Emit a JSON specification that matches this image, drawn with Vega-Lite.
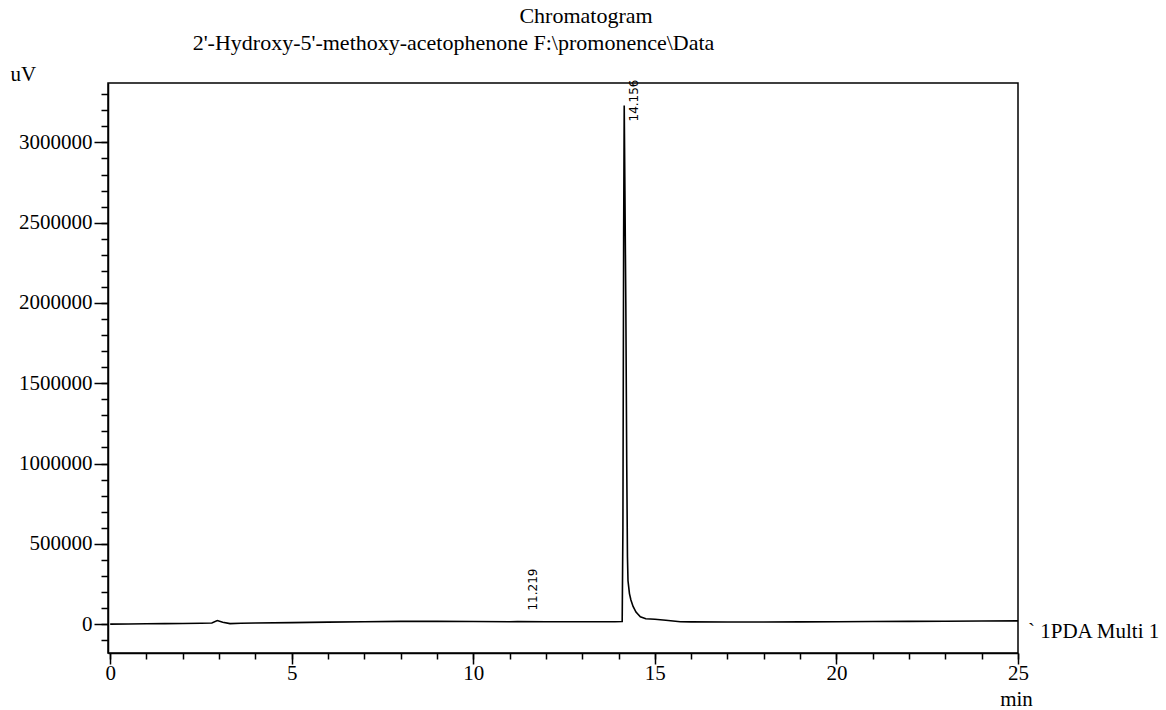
{
  "$schema": "https://vega.github.io/schema/vega-lite/v6.json",
  "autosize": {"type": "none"},
  "padding": {"left": 108, "top": 83, "right": 148, "bottom": 57},
  "width": 910,
  "height": 570,
  "background": "white",
  "config": {
    "view": {"stroke": "black", "strokeWidth": 1.5},
    "font": "Liberation Serif",
    "axis": {"grid": false, "tickColor": "black", "domainColor": "black", "labelColor": "black", "titleColor": "black", "tickWidth": 1.5, "domainWidth": 1.5, "labelFont": "Liberation Serif", "titleFont": "Liberation Serif", "titleFontWeight": "normal"}
  },
  "title": {
    "text": "Chromatogram",
    "anchor": "middle",
    "frame": "group",
    "dx": 23,
    "offset": -14,
    "baseline": "alphabetic",
    "font": "Liberation Serif",
    "fontSize": 22,
    "fontWeight": "normal",
    "color": "black"
  },
  "data": {
    "values": [
      {"t": 0, "uV": 0},
      {"t": 0.5, "uV": 1000},
      {"t": 1.0, "uV": 2000},
      {"t": 1.5, "uV": 3000},
      {"t": 2.0, "uV": 4000},
      {"t": 2.5, "uV": 5000},
      {"t": 2.8, "uV": 7000},
      {"t": 2.95, "uV": 22000},
      {"t": 3.1, "uV": 12000},
      {"t": 3.3, "uV": 3000},
      {"t": 3.6, "uV": 5000},
      {"t": 4.0, "uV": 7000},
      {"t": 5.0, "uV": 9000},
      {"t": 6.0, "uV": 12000},
      {"t": 7.0, "uV": 15000},
      {"t": 8.0, "uV": 17000},
      {"t": 9.0, "uV": 17000},
      {"t": 10.0, "uV": 16000},
      {"t": 11.0, "uV": 15000},
      {"t": 11.219, "uV": 16000},
      {"t": 12.0, "uV": 15000},
      {"t": 13.0, "uV": 15000},
      {"t": 13.9, "uV": 15000},
      {"t": 14.1, "uV": 16000},
      {"t": 14.12, "uV": 600000},
      {"t": 14.14, "uV": 2400000},
      {"t": 14.156, "uV": 3230000},
      {"t": 14.175, "uV": 2700000},
      {"t": 14.2, "uV": 2000000},
      {"t": 14.225, "uV": 1000000},
      {"t": 14.245, "uV": 420000},
      {"t": 14.26, "uV": 270000},
      {"t": 14.3, "uV": 190000},
      {"t": 14.34, "uV": 150000},
      {"t": 14.4, "uV": 110000},
      {"t": 14.48, "uV": 75000},
      {"t": 14.6, "uV": 45000},
      {"t": 14.75, "uV": 33000},
      {"t": 15.0, "uV": 30000},
      {"t": 15.3, "uV": 24000},
      {"t": 15.7, "uV": 15000},
      {"t": 16.0, "uV": 14000},
      {"t": 17.0, "uV": 13000},
      {"t": 18.0, "uV": 13000},
      {"t": 19.0, "uV": 14000},
      {"t": 20.0, "uV": 15000},
      {"t": 21.0, "uV": 16000},
      {"t": 22.0, "uV": 17000},
      {"t": 23.0, "uV": 18000},
      {"t": 24.0, "uV": 19000},
      {"t": 25.0, "uV": 20000}
    ]
  },
  "layer": [
    {
      "mark": {"type": "line", "color": "black", "strokeWidth": 1.6},
      "encoding": {
        "x": {
          "field": "t", "type": "quantitative",
          "scale": {"domain": [-0.06, 25], "nice": false, "zero": false},
          "axis": {
            "orient": "bottom",
            "values": [0, 5, 10, 15, 20, 25],
            "tickSize": 11,
            "labelFontSize": 21,
            "labelPadding": -2,
            "labelFlush": false,
            "labelOverlap": false,
            "title": "min",
            "titleFontSize": 21,
            "titleX": 908,
            "titleY": 52,
            "titleAlign": "center",
            "titleBaseline": "alphabetic"
          }
        },
        "y": {
          "field": "uV", "type": "quantitative",
          "scale": {"domain": [-180000, 3370000], "nice": false, "zero": false},
          "axis": {
            "orient": "left",
            "values": [0, 500000, 1000000, 1500000, 2000000, 2500000, 3000000],
            "format": "d",
            "tickSize": 14,
            "labelFontSize": 21,
            "labelPadding": 2,
            "labelOverlap": false,
            "title": "uV",
            "titleFontSize": 21,
            "titleAngle": 0,
            "titleX": -98,
            "titleY": -3,
            "titleAlign": "left",
            "titleBaseline": "alphabetic"
          }
        }
      }
    },
    {
      "mark": {"type": "line", "opacity": 0},
      "encoding": {
        "x": {
          "field": "t", "type": "quantitative",
          "axis": {
            "orient": "bottom",
            "values": [0, 1, 2, 3, 4, 5, 6, 7, 8, 9, 10, 11, 12, 13, 14, 15, 16, 17, 18, 19, 20, 21, 22, 23, 24, 25],
            "tickSize": 6,
            "labels": false,
            "domain": false,
            "title": null
          }
        },
        "y": {
          "field": "uV", "type": "quantitative",
          "axis": {
            "orient": "left",
            "values": [-100000, 0, 100000, 200000, 300000, 400000, 500000, 600000, 700000, 800000, 900000, 1000000, 1100000, 1200000, 1300000, 1400000, 1500000, 1600000, 1700000, 1800000, 1900000, 2000000, 2100000, 2200000, 2300000, 2400000, 2500000, 2600000, 2700000, 2800000, 2900000, 3000000, 3100000, 3200000, 3300000],
            "tickSize": 7,
            "labels": false,
            "domain": false,
            "title": null
          }
        }
      }
    },
    {
      "mark": {"type": "line", "opacity": 0},
      "encoding": {
        "x": {
          "field": "t", "type": "quantitative",
          "axis": {
            "orient": "top",
            "ticks": false,
            "labels": false,
            "domain": false,
            "title": "2'-Hydroxy-5'-methoxy-acetophenone F:\\promonence\\Data",
            "titleFontSize": 22,
            "titleX": 345,
            "titleY": -34,
            "titleAlign": "center",
            "titleBaseline": "alphabetic"
          }
        },
        "y": {"field": "uV", "type": "quantitative", "axis": null}
      }
    },
    {
      "data": {"values": [{"t": 14.156, "uV": 3230000, "label": "14.156"}]},
      "mark": {"type": "text", "angle": 270, "align": "left", "baseline": "middle", "dx": -16, "dy": 10, "font": "DejaVu Sans", "fontSize": 12, "color": "black"},
      "encoding": {
        "x": {"field": "t", "type": "quantitative", "axis": null},
        "y": {"field": "uV", "type": "quantitative", "axis": null},
        "text": {"field": "label"}
      }
    },
    {
      "data": {"values": [{"t": 11.219, "uV": 16000, "label": "11.219"}]},
      "mark": {"type": "text", "angle": 270, "align": "left", "baseline": "middle", "dx": 11, "dy": 15, "font": "DejaVu Sans", "fontSize": 12, "color": "black"},
      "encoding": {
        "x": {"field": "t", "type": "quantitative", "axis": null},
        "y": {"field": "uV", "type": "quantitative", "axis": null},
        "text": {"field": "label"}
      }
    },
    {
      "data": {"values": [{"t": 25, "uV": 20000, "label": "` 1PDA Multi 1"}]},
      "mark": {"type": "text", "align": "left", "baseline": "alphabetic", "dx": 10, "dy": 17, "font": "Liberation Serif", "fontSize": 21, "color": "black"},
      "encoding": {
        "x": {"field": "t", "type": "quantitative", "axis": null},
        "y": {"field": "uV", "type": "quantitative", "axis": null},
        "text": {"field": "label"}
      }
    }
  ],
  "resolve": {"axis": {"x": "independent", "y": "independent"}}
}
